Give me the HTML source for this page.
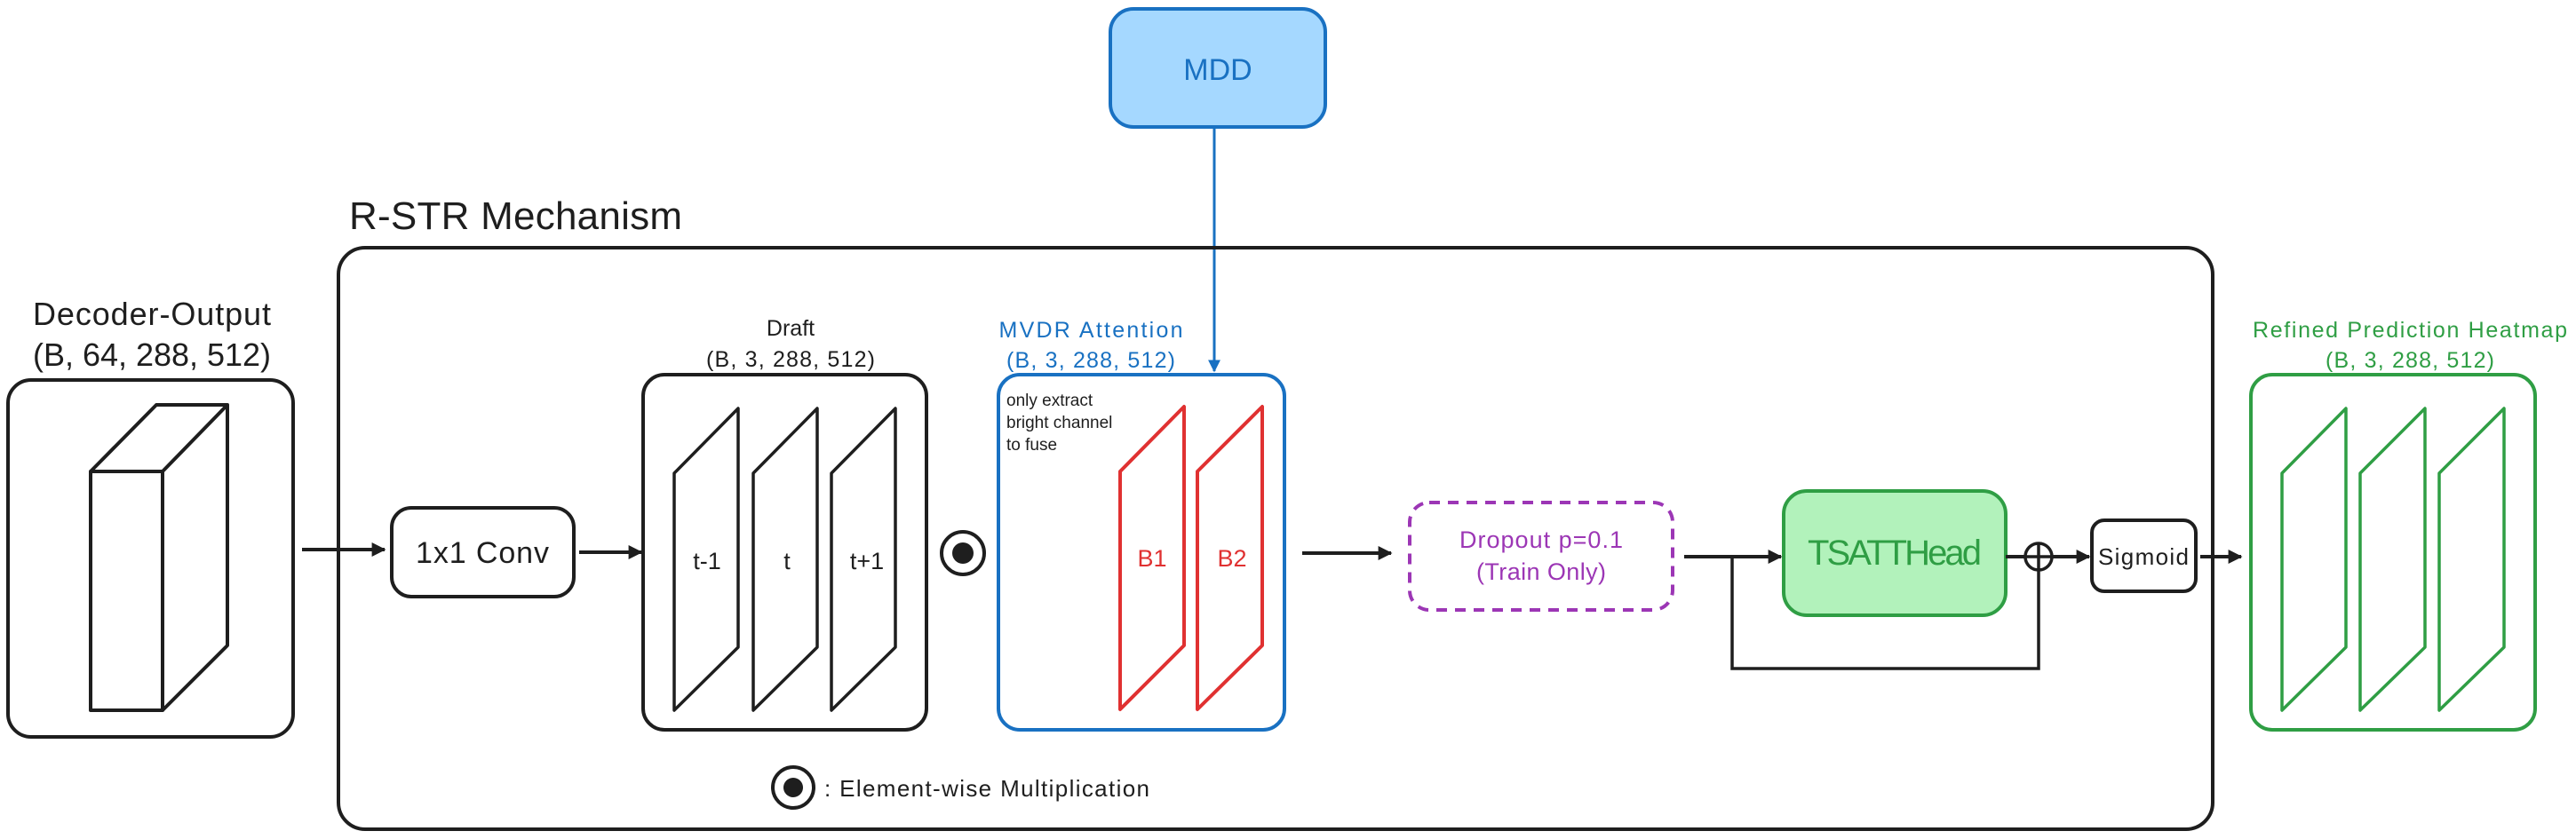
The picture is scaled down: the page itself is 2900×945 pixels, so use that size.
<!DOCTYPE html>
<html><head><meta charset="utf-8"><style>
html,body{margin:0;padding:0;background:#fff;}
svg{display:block;}
text{font-family:"Liberation Sans",sans-serif;}
</style></head><body>
<svg width="2900" height="945" viewBox="0 0 2900 945" xmlns="http://www.w3.org/2000/svg">
<defs>
<marker id="ab" viewBox="0 0 10 10" refX="9" refY="5" markerWidth="14" markerHeight="22" orient="auto" markerUnits="userSpaceOnUse"><path d="M0,0 L10,5 L0,10 z" fill="#1971c2"/></marker>
<marker id="ak2" viewBox="0 0 10 10" refX="9" refY="5" markerWidth="16" markerHeight="18" orient="auto" markerUnits="userSpaceOnUse"><path d="M0,0 L10,5 L0,10 z" fill="#1e1e1e"/></marker>
</defs>

<rect x="1250" y="10" width="242" height="133" rx="26" fill="#a5d8ff" stroke="#1971c2" stroke-width="4"/>
<text x="1371" y="90" font-size="34" fill="#1971c2" text-anchor="middle">MDD</text>
<line x1="1367" y1="143" x2="1367" y2="418" stroke="#1971c2" stroke-width="3" marker-end="url(#ab)"/>

<text x="393" y="258" font-size="44" fill="#1e1e1e" textLength="375">R-STR Mechanism</text>
<rect x="381" y="279" width="2110" height="655" rx="30" fill="none" stroke="#1e1e1e" stroke-width="4"/>

<text x="171" y="366" font-size="36" fill="#1e1e1e" text-anchor="middle" textLength="268">Decoder-Output</text>
<text x="171" y="412" font-size="36" fill="#1e1e1e" text-anchor="middle" textLength="268">(B, 64, 288, 512)</text>
<rect x="9" y="428" width="321" height="402" rx="26" fill="none" stroke="#1e1e1e" stroke-width="4"/>
<g fill="none" stroke="#1e1e1e" stroke-width="4" stroke-linejoin="round">
<rect x="102" y="531" width="81" height="269"/>
<path d="M102,531 L176,456 L256,456 L183,531 M256,456 L256,727 L183,800"/>
</g>

<line x1="340" y1="619" x2="433" y2="619" stroke="#1e1e1e" stroke-width="4" marker-end="url(#ak2)"/>
<rect x="441" y="572" width="205" height="100" rx="22" fill="none" stroke="#1e1e1e" stroke-width="4"/>
<text x="543" y="634" font-size="34" fill="#1e1e1e" text-anchor="middle" textLength="150">1x1 Conv</text>
<line x1="652" y1="622" x2="722" y2="622" stroke="#1e1e1e" stroke-width="4" marker-end="url(#ak2)"/>

<text x="890" y="378" font-size="25" fill="#1e1e1e" text-anchor="middle">Draft</text>
<text x="890" y="413" font-size="25" fill="#1e1e1e" text-anchor="middle" textLength="190">(B, 3, 288, 512)</text>
<rect x="724" y="422" width="319" height="400" rx="24" fill="none" stroke="#1e1e1e" stroke-width="4"/>
<g fill="none" stroke="#1e1e1e" stroke-width="3.5" stroke-linejoin="round">
<path d="M759,533 L831,460 L831,729 L759,800 Z"/>
<path d="M848,533 L920,460 L920,729 L848,800 Z"/>
<path d="M936,533 L1008,460 L1008,729 L936,800 Z"/>
</g>
<text x="796" y="641" font-size="27" fill="#1e1e1e" text-anchor="middle">t-1</text>
<text x="886" y="641" font-size="27" fill="#1e1e1e" text-anchor="middle">t</text>
<text x="976" y="641" font-size="27" fill="#1e1e1e" text-anchor="middle">t+1</text>

<circle cx="1084" cy="623" r="24" fill="none" stroke="#1e1e1e" stroke-width="4"/>
<circle cx="1084" cy="623" r="12" fill="#1e1e1e"/>

<text x="1228" y="380" font-size="25" fill="#1971c2" text-anchor="middle" textLength="207">MVDR Attention</text>
<text x="1228" y="414" font-size="25" fill="#1971c2" text-anchor="middle" textLength="190">(B, 3, 288, 512)</text>
<rect x="1124" y="422" width="322" height="400" rx="24" fill="none" stroke="#1971c2" stroke-width="4"/>
<text x="1133" y="457" font-size="19" fill="#1e1e1e">only extract</text>
<text x="1133" y="482" font-size="19" fill="#1e1e1e">bright channel</text>
<text x="1133" y="507" font-size="19" fill="#1e1e1e">to fuse</text>
<g fill="none" stroke="#e03131" stroke-width="4" stroke-linejoin="round">
<path d="M1261,531 L1333,458 L1333,727 L1261,799 Z"/>
<path d="M1348,531 L1421,458 L1421,727 L1348,799 Z"/>
</g>
<text x="1297" y="638" font-size="27" fill="#e03131" text-anchor="middle">B1</text>
<text x="1387" y="638" font-size="27" fill="#e03131" text-anchor="middle">B2</text>

<line x1="1466" y1="623" x2="1566" y2="623" stroke="#1e1e1e" stroke-width="4" marker-end="url(#ak2)"/>

<rect x="1587" y="566" width="296" height="121" rx="22" fill="none" stroke="#9c36b5" stroke-width="4" stroke-dasharray="12 9"/>
<text x="1735" y="617" font-size="27" fill="#9c36b5" text-anchor="middle" textLength="184">Dropout p=0.1</text>
<text x="1735" y="653" font-size="27" fill="#9c36b5" text-anchor="middle" textLength="146">(Train Only)</text>

<line x1="1896" y1="627" x2="2005" y2="627" stroke="#1e1e1e" stroke-width="4" marker-end="url(#ak2)"/>
<polyline points="1950,627 1950,753 2295,753 2295,627" fill="none" stroke="#1e1e1e" stroke-width="3.5"/>

<rect x="2008" y="553" width="250" height="140" rx="26" fill="#b2f2bb" stroke="#2f9e44" stroke-width="4"/>
<text x="2133" y="636" font-size="40" fill="#2f9e44" text-anchor="middle" textLength="196">TSATTHead</text>

<line x1="2258" y1="627" x2="2352" y2="627" stroke="#1e1e1e" stroke-width="4" marker-end="url(#ak2)"/>
<circle cx="2295" cy="627" r="15" fill="#fff" stroke="#1e1e1e" stroke-width="3.5"/>
<line x1="2280" y1="627" x2="2310" y2="627" stroke="#1e1e1e" stroke-width="3.5"/>
<line x1="2295" y1="612" x2="2295" y2="642" stroke="#1e1e1e" stroke-width="3.5"/>

<rect x="2355" y="586" width="117" height="80" rx="14" fill="none" stroke="#1e1e1e" stroke-width="4"/>
<text x="2413" y="636" font-size="26" fill="#1e1e1e" text-anchor="middle" textLength="102">Sigmoid</text>
<line x1="2477" y1="627" x2="2523" y2="627" stroke="#1e1e1e" stroke-width="4" marker-end="url(#ak2)"/>

<text x="2713" y="380" font-size="25" fill="#2f9e44" text-anchor="middle" textLength="354">Refined Prediction Heatmap</text>
<text x="2713" y="414" font-size="25" fill="#2f9e44" text-anchor="middle" textLength="190">(B, 3, 288, 512)</text>
<rect x="2534" y="422" width="320" height="400" rx="24" fill="none" stroke="#2f9e44" stroke-width="4"/>
<g fill="none" stroke="#2f9e44" stroke-width="3.5" stroke-linejoin="round">
<path d="M2569,533 L2641,460 L2641,729 L2569,800 Z"/>
<path d="M2657,533 L2730,460 L2730,729 L2657,800 Z"/>
<path d="M2746,533 L2819,460 L2819,729 L2746,800 Z"/>
</g>

<circle cx="893" cy="887" r="23" fill="none" stroke="#1e1e1e" stroke-width="4"/>
<circle cx="893" cy="887" r="11" fill="#1e1e1e"/>
<text x="928" y="897" font-size="26" fill="#1e1e1e" textLength="366">: Element-wise Multiplication</text>
</svg>
</body></html>
